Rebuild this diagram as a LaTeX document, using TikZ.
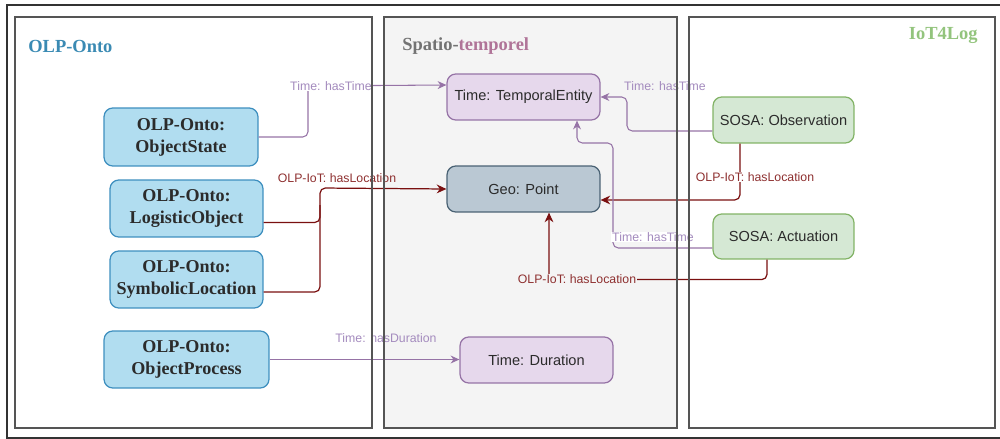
\documentclass[tikz,border=0pt]{standalone}
\usepackage{fontspec}
\setmainfont{Liberation Serif}
\newfontfamily\sansf{Liberation Sans}
\usetikzlibrary{arrows.meta,calc}
\definecolor{blfill}{HTML}{B1DDF0}
\definecolor{bldraw}{HTML}{3E8FBF}
\definecolor{pufill}{HTML}{E6D8EC}
\definecolor{pudraw}{HTML}{9673A6}
\definecolor{grfill}{HTML}{D5E8D4}
\definecolor{grdraw}{HTML}{82B366}
\definecolor{gefill}{HTML}{BAC8D3}
\definecolor{gedraw}{HTML}{4A6274}
\definecolor{rel}{HTML}{7A1010}
\definecolor{rellab}{HTML}{8E3030}
\definecolor{pulab}{HTML}{A48BBE}
\definecolor{ttlblue}{HTML}{3A8AB3}
\definecolor{iotgreen}{HTML}{93C47D}
\definecolor{sptm}{HTML}{B07498}
\definecolor{panelfill}{HTML}{F4F4F4}
\definecolor{panelline}{HTML}{555555}
\definecolor{txt}{HTML}{2B2B2B}
\tikzset{
  box/.style={rounded corners=5pt, line width=0.7pt, inner sep=0pt, align=center, text=txt},
  bluebox/.style={box, fill=blfill, draw=bldraw, font=\bfseries\fontsize{10.3}{12.5}\selectfont},
  purplebox/.style={box, fill=pufill, draw=pudraw, font=\sansf\fontsize{8.3}{10}\selectfont},
  greenbox/.style={box, fill=grfill, draw=grdraw, font=\sansf\fontsize{8.3}{10}\selectfont},
  geobox/.style={box, fill=gefill, draw=gedraw, font=\sansf\fontsize{8.3}{10}\selectfont},
  pconn/.style={draw=pudraw, line width=0.6pt, rounded corners=3pt, -{Stealth[length=5pt,width=4.5pt]}},
  rline/.style={draw=rel, line width=0.7pt, rounded corners=3pt},
  rconn/.style={rline, -{Stealth[length=5.5pt,width=5pt]}},
  plab/.style={font=\sansf\fontsize{7}{8}\selectfont, text=pulab, inner sep=0.5pt},
  rlab/.style={font=\sansf\fontsize{7}{8}\selectfont, text=rellab, inner sep=0.5pt},
  panel/.style={draw=panelline, line width=0.7pt},
  ptitle/.style={font=\bfseries\fontsize{10.5}{12}\selectfont, inner sep=0pt}
}
\begin{document}
\begin{tikzpicture}[x=0.02cm, y=-0.02cm]
\useasboundingbox (0,0) rectangle (1000,439);
% outer frame
\draw[draw=black!80, line width=0.6pt] (7,5) rectangle (1004,438);
% middle panel fill
\fill[panelfill] (384,17) rectangle (677,428);

% nodes
\node[bluebox, minimum width=3.08cm, minimum height=1.16cm] (os) at (181,137) {OLP-Onto:\\ObjectState};
\node[bluebox, minimum width=3.06cm, minimum height=1.14cm] (lo) at (186.5,208.5) {OLP-Onto:\\LogisticObject};
\node[bluebox, minimum width=3.06cm, minimum height=1.14cm] (sl) at (186.5,279.5) {OLP-Onto:\\SymbolicLocation};
\node[bluebox, minimum width=3.3cm, minimum height=1.14cm] (op) at (186.5,359.5) {OLP-Onto:\\ObjectProcess};
\node[purplebox, minimum width=3.06cm, minimum height=0.92cm] (te) at (523.5,97) {Time: TemporalEntity};
\node[geobox, minimum width=3.06cm, minimum height=0.92cm] (gp) at (523.5,189) {Geo: Point};
\node[purplebox, minimum width=3.06cm, minimum height=0.92cm] (du) at (536.5,360) {Time: Duration};
\node[greenbox, minimum width=2.82cm, minimum height=0.92cm] (ob) at (783.5,120) {SOSA: Observation};
\node[greenbox, minimum width=2.82cm, minimum height=0.9cm] (ac) at (783.5,236.5) {SOSA: Actuation};

% connectors
\coordinate (c1) at (308,86);
\draw[pconn] (os.east) -| (c1) -- ($(te.west)+(0,-12)$);
\coordinate (c2) at (320,188);
\coordinate (c2b) at (320,205);
\draw[rconn] ($(lo.east)+(0,14)$) -| (c2) -- (gp.west);
\draw[rline] ($(sl.east)+(0,12.5)$) -| (c2b);
\coordinate (c3) at (627,131);
\draw[pconn] (op.east) -- (op.east -| du.west);
\draw[pconn] ($(ob.west)+(0,11)$) -- (c3) |- (te.east);
\coordinate (c4) at (740,200);
\draw[rconn] (c4 |- ob.south) |- (gp.east |- c4);
\coordinate (c5) at (613,143);
\draw[pconn] ($(ac.west)+(0,11.5)$) -| (c5) -| ($(te.south)+(53.5,0)$);
\coordinate (c6) at (767,279);
\draw[rconn] (c6 |- ac.south) |- ($(gp.south)+(25.5,67)$) -- ($(gp.south)+(25.5,0)$);

% labels
\node[plab, fill=white] (l1) at (331,86) {Time: hasTime};
\node[rlab] (l2) at (337,178) {OLP-IoT: hasLocation};
\node[plab] (l3) at (386,338) {Time: hasDuration};
\node[plab] (l4) at (665,86) {Time: hasTime};
\node[rlab, fill=white] (l5) at (755,177) {OLP-IoT: hasLocation};
\node[plab, fill=white] (l6) at (653,237) {Time: hasTime};
\node[rlab, fill=panelfill] (l7) at (577,279) {OLP-IoT: hasLocation};

% panel borders
\draw[panel] (15,17) rectangle (372,428);
\draw[panel] (384,17) rectangle (677,428);
\draw[panel] (689,17) rectangle (995,428);

% titles
\node[ptitle, text=ttlblue, anchor=west] (t1) at (28,46) {OLP-Onto};
\node[ptitle, anchor=west] (t2) at (402,46) {\textcolor{black!55}{Spatio-}\textcolor{sptm}{temporel}};
\node[ptitle, text=iotgreen, anchor=east] (t3) at (978,35) {IoT4Log};
\end{tikzpicture}
\end{document}
